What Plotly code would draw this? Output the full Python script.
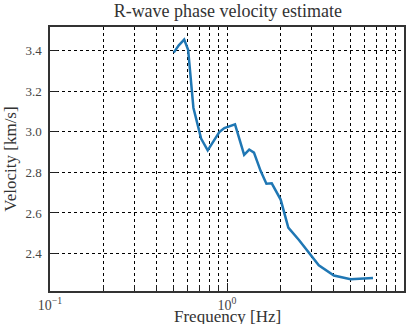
import plotly.graph_objects as go

freq = [0.50, 0.534, 0.573, 0.603, 0.646, 0.714, 0.778, 0.905, 0.966, 1.11,
        1.25, 1.335, 1.42, 1.55, 1.67, 1.79, 2.01, 2.22, 2.55, 3.01, 3.30,
        4.02, 4.99, 6.68]
velocity = [3.389, 3.425, 3.453, 3.403, 3.118, 2.966, 2.908, 2.998, 3.018, 3.036,
            2.886, 2.912, 2.897, 2.806, 2.744, 2.746, 2.666, 2.528, 2.467, 2.386,
            2.342, 2.292, 2.274, 2.280]

x_major = [0.1, 1, 10]
x_major_text = ["10<sup>−1</sup>", "10<sup>0</sup>", "10<sup>1</sup>"]
x_minor = [m * d for d in (0.1, 1) for m in range(2, 10)]
y_ticks = [2.4, 2.6, 2.8, 3.0, 3.2, 3.4]
y_text = ["2.4", "2.6", "2.8", "3.0", "3.2", "3.4"]

FONT = "Liberation Serif"
GRID = dict(showgrid=True, gridcolor="black", gridwidth=0.8, griddash="3px,3px")

fig = go.Figure()
fig.add_trace(go.Scatter(x=freq, y=velocity, mode="lines",
                         line=dict(color="#1f77b4", width=2.5)))

fig.update_layout(
    width=412, height=324,
    margin=dict(l=50, r=6, t=27, b=33),
    paper_bgcolor="white", plot_bgcolor="white",
    showlegend=False,
    font=dict(family=FONT, color="#333333", size=13),
    title=dict(text="R-wave phase velocity estimate", x=0.553, xanchor="center",
               y=0.985, yanchor="top", font=dict(family=FONT, size=18, color="#333333")),
    xaxis=dict(type="log", range=[-1, 1], tickmode="array", tickvals=x_major,
               ticktext=x_major_text, ticks="inside", ticklen=8, tickwidth=1.2,
               tickcolor="#222", showline=True, linecolor="#333", linewidth=1.5,
               mirror=True, zeroline=False, automargin=False, **GRID,
               tickfont=dict(size=14, family=FONT, color="#444"),
               minor=dict(tickmode="array", tickvals=x_minor, ticks="inside",
                          ticklen=6, tickcolor="#222", **GRID)),
    yaxis=dict(range=[2.216, 3.515], tickmode="array", tickvals=y_ticks,
               ticktext=y_text, ticks="inside", ticklen=8, tickwidth=1.2,
               tickcolor="#222", showline=True, linecolor="#333", linewidth=1.5,
               mirror=True, zeroline=False, **GRID, ticklabelstandoff=4,
               tickfont=dict(size=13, family=FONT, color="#444"),
               title=dict(text="Velocity [km/s]", standoff=4,
                          font=dict(size=17, family=FONT, color="#333"))),
    annotations=[dict(text="Frequency [Hz]", xref="paper", yref="paper",
                      x=0.5, y=0, xanchor="center", yanchor="top", yshift=-14,
                      showarrow=False, font=dict(size=17, family=FONT, color="#333"))],
)

fig.write_html("out.html")
